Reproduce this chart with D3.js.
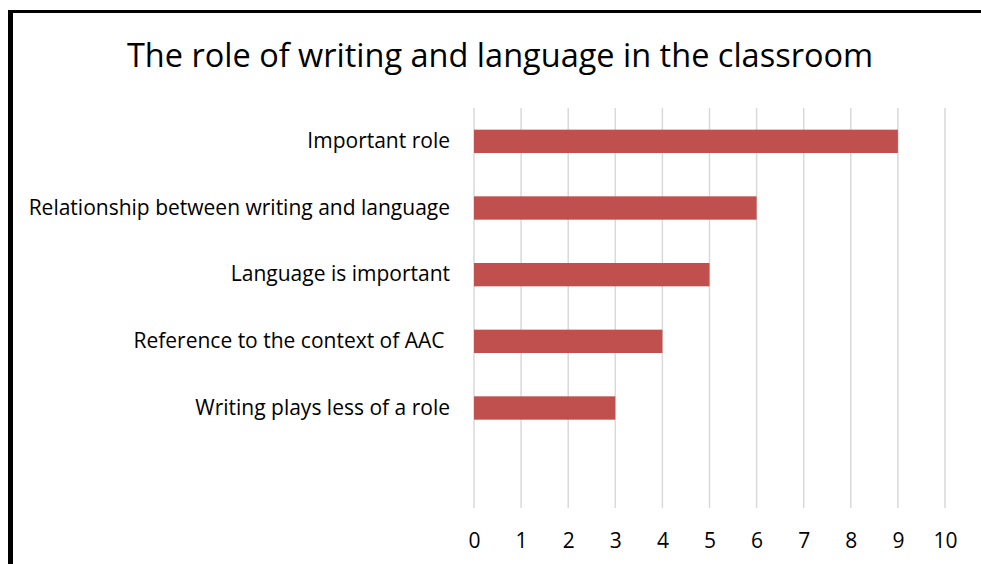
<!DOCTYPE html>
<html>
<head>
<meta charset="utf-8">
<script src="https://cdn.jsdelivr.net/npm/d3@7"></script>
<style>
  html, body { margin: 0; padding: 0; background: #fff; }
  svg { display: block; }
  text { font-family: "Open Sans", "Lato", sans-serif; fill: #000; }
</style>
</head>
<body>
<svg id="chart" width="981" height="564"></svg>
<script>
// Survey responses: how teachers describe the role of writing and language
const categories = [
  "Important role",
  "Relationship between writing and language",
  "Language is important",
  "Reference to the context of AAC\u00a0",
  "Writing plays less of a role",
  ""
];
const counts = [9, 6, 5, 4, 3];
const xTicks = [0, 1, 2, 3, 4, 5, 6, 7, 8, 9, 10];
const title = "The role of writing and language in the classroom";

const svg = d3.select("#chart");
const W = 981, H = 564;
const plot = { left: 474, right: 945, top: 108, bottom: 508 };
const labelFont = "'Open Sans', Lato, sans-serif";

svg.append("rect").attr("width", W).attr("height", H).attr("fill", "#fff");

// frame: heavy left edge and top rule
svg.append("line").attr("x1", 8).attr("x2", W).attr("y1", 11.5).attr("y2", 11.5)
  .attr("stroke", "#000").attr("stroke-width", 3);
svg.append("line").attr("x1", 10.5).attr("x2", 10.5).attr("y1", 10).attr("y2", H)
  .attr("stroke", "#000").attr("stroke-width", 5);

svg.append("text").attr("x", 500).attr("y", 67).attr("text-anchor", "middle")
  .style("font-size", "32.5px").text(title);

const x = d3.scaleLinear().domain([0, 10]).range([plot.left, plot.right]);
const y = d3.scaleBand().domain(categories).range([plot.top, plot.bottom])
  .paddingInner(0.65).paddingOuter(0.325);

// vertical gridlines
svg.append("g").selectAll("line").data(xTicks).join("line")
  .attr("x1", d => x(d)).attr("x2", d => x(d))
  .attr("y1", plot.top).attr("y2", plot.bottom)
  .attr("stroke", "#d9d9d9").attr("stroke-width", 1.5);

// bars
svg.append("g").selectAll("rect").data(counts).join("rect")
  .attr("x", x(0))
  .attr("y", (d, i) => y(categories[i]))
  .attr("width", d => x(d) - x(0))
  .attr("height", y.bandwidth())
  .attr("fill", "#c0504d");

// value axis labels
const xAxis = d3.axisBottom(x).tickValues(xTicks).tickSize(0).tickPadding(0);
const gx = svg.append("g").attr("transform", `translate(0,${plot.bottom + 25})`).call(xAxis);
gx.select(".domain").remove();
gx.selectAll("text").style("font-size", "21px").style("font-family", labelFont).attr("fill", "#000");

// category labels
const yAxis = d3.axisLeft(y).tickSize(0).tickPadding(24);
const gy = svg.append("g").attr("transform", `translate(${plot.left},0)`).call(yAxis);
gy.select(".domain").remove();
gy.selectAll("text").style("font-size", "21px").style("font-family", labelFont)
  .attr("fill", "#000").style("white-space", "pre");
</script>
</body>
</html>
